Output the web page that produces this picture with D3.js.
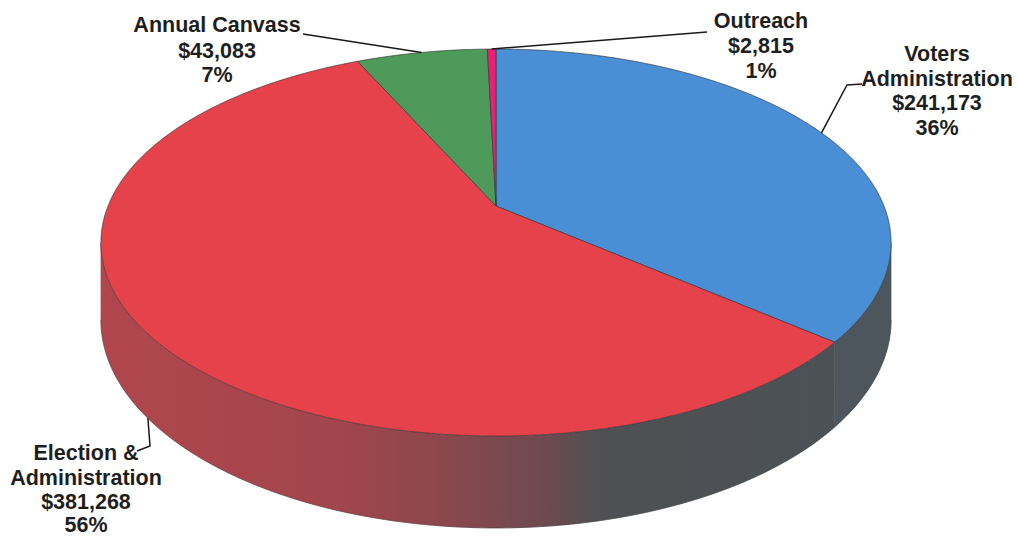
<!DOCTYPE html>
<html>
<head>
<meta charset="utf-8">
<script src="https://cdn.jsdelivr.net/npm/d3@7"></script>
<style>
  body { margin: 0; background: #fff; }
  .lbl { font-family: "Liberation Sans", Arial, sans-serif; font-weight: bold; font-size: 21.5px; fill: #1e1e1e; }
</style>
</head>
<body>
<div id="chart"></div>
<script>
// data
var categories = ["Voters Administration", "Election & Administration", "Annual Canvass", "Outreach"];
var amounts = [241173, 381268, 43083, 2815];
var percentLabels = ["36%", "56%", "7%", "1%"];
var nameLines = [["Voters", "Administration"], ["Election &", "Administration"], ["Annual Canvass"], ["Outreach"]];

// styles
var topColors = ["#4a8ed5", "#e6424b", "#4d9a5b", "#e8207a"];
var wallColors = ["#4d555d", "url(#redWall)", "#3f7a4a", "#b01a60"];

var svgWidth = 1018;
var svgHeight = 537;

// pie geometry (perspective ellipse)
var cx = 496, cy = 206;
var RX = 388, A = 186.6, D = 5.3, H = 74.6;

var svg = d3.select("#chart")
  .append("svg")
  .attr("width", svgWidth)
  .attr("height", svgHeight);

var grad = svg.append("defs").append("linearGradient")
  .attr("id", "redWall")
  .attr("gradientUnits", "userSpaceOnUse")
  .attr("x1", 100).attr("x2", 890).attr("y1", 0).attr("y2", 0);
[[0, "#b1464d"], [0.3, "#a2454c"], [0.42, "#8e474d"], [0.57, "#6c4a4f"], [0.63, "#4f5053"], [1, "#4a5256"]]
  .forEach(function(s) {
    grad.append("stop").attr("offset", s[0]).attr("stop-color", s[1]);
  });

// project a point of the disc (angle clockwise from 12 o'clock) to the page
function proj(theta, r, depth) {
  var u = r * Math.sin(theta), v = r * Math.cos(theta);
  var s = D / (D + v);
  return [cx + RX * u * s, cy - A * v * s + depth * H * s];
}

function arcPoints(a0, a1, depth) {
  var n = Math.max(2, Math.ceil((a1 - a0) / (Math.PI / 180)));
  return d3.range(n + 1).map(function(i) {
    return proj(a0 + (a1 - a0) * i / n, 1, depth);
  });
}

var pie = d3.pie().sort(null).value(function(d) { return d; });
var arcs = pie(amounts);

var line = d3.line();

// front side of the cake is visible between the two extreme points
var thetaR = Math.acos(-1 / D);
var thetaL = 2 * Math.PI - thetaR;

var wallGroup = svg.append("g");
arcs.forEach(function(d, i) {
  var a0 = Math.max(d.startAngle, thetaR);
  var a1 = Math.min(d.endAngle, thetaL);
  if (a1 <= a0) return;
  var pts = arcPoints(a0, a1, 0).concat(arcPoints(a0, a1, 1).reverse());
  wallGroup.append("path")
    .attr("d", line(pts) + "Z")
    .attr("fill", wallColors[i])
    .attr("stroke", wallColors[i])
    .attr("stroke-width", 0.5);
});

// outline of the wall
svg.append("path")
  .attr("d", line(arcPoints(thetaR, thetaL, 1)))
  .attr("fill", "none")
  .attr("stroke", "#3a3a3a")
  .attr("stroke-width", 1)
  .attr("opacity", 0.45);

var topGroup = svg.append("g");
topGroup.selectAll("path")
  .data(arcs)
  .enter()
  .append("path")
  .attr("d", function(d) {
    return line([[cx, cy]].concat(arcPoints(d.startAngle, d.endAngle, 0))) + "Z";
  })
  .attr("fill", function(d, i) { return topColors[i]; })
  .attr("stroke", "#2e2e2e")
  .attr("stroke-width", 1)
  .attr("stroke-opacity", 0.6)
  .attr("stroke-linejoin", "round");

// labels
var fmt = d3.format("$,");
var labelLayout = [
  { x: 937, y: [61, 85.5, 110, 134.5], depth: 0, path: [[847, 85], [862, 84]] },
  { x: 86, y: [460, 484.5, 509, 532], depth: 1, path: [[150, 446], [137, 451]] },
  { x: 217, y: [32, 57.5, 82], depth: 0, path: [[303, 34]] },
  { x: 761, y: [28, 53, 78], depth: 0, path: [[707, 32]] }
];

arcs.forEach(function(d, i) {
  var lay = labelLayout[i];
  var mid = (d.startAngle + d.endAngle) / 2;
  var anchor = proj(mid, 1, lay.depth);
  svg.append("path")
    .attr("d", line([anchor].concat(lay.path)))
    .attr("fill", "none")
    .attr("stroke", "#1a1a1a")
    .attr("stroke-width", 1.5);

  var texts = nameLines[i].concat([fmt(amounts[i]), percentLabels[i]]);
  var t = svg.append("text")
    .attr("class", "lbl")
    .attr("text-anchor", "middle");
  texts.forEach(function(s, j) {
    t.append("tspan")
      .attr("x", lay.x)
      .attr("y", lay.y[j])
      .text(s);
  });
});
</script>
</body>
</html>
